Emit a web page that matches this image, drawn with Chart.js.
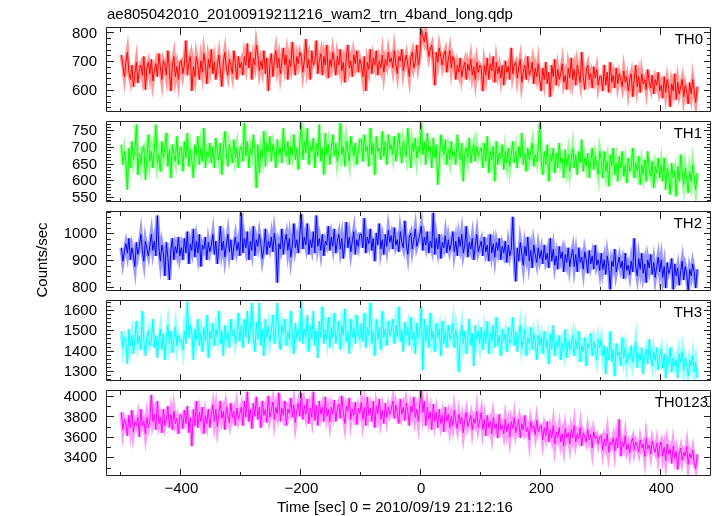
<!DOCTYPE html>
<html>
<head>
<meta charset="utf-8">
<script src="https://cdn.jsdelivr.net/npm/chart.js@4.4.1/dist/chart.umd.min.js"></script>
<style>
  html, body { margin: 0; background: #fff; }
  #wrap { position: relative; width: 717px; height: 516px; overflow: hidden; background: #fff; }
  #wrap canvas { position: absolute; left: 0; }
</style>
</head>
<body>
<div id="wrap"></div>
<script>
// light curve of the 4 WAM bands + sum, 2.5 s bins starting at -500 s
const titleText = "ae805042010_20100919211216_wam2_trn_4band_long.qdp";
const xTitle = "Time [sec] 0 = 2010/09/19 21:12:16";
const yTitle = "Counts/sec";
const bandNames = ["TH0", "TH1", "TH2", "TH3", "TH0123"];

const binStart = -500;
const binWidth = 2.5;

// one row = 50 s
const th0 = [
  725, 690, 650, 700, 735, 665, 640, 690, 615, 660, 700, 628, 675, 690, 655, 720, 605, 680, 700, 660,
  710, 635, 670, 695, 650, 730, 680, 640, 705, 690, 655, 740, 675, 600, 690, 720, 650, 685, 640, 700,
  705, 660, 690, 775, 655, 700, 720, 600, 685, 650, 720, 690, 640, 705, 665, 730, 690, 625, 710, 680,
  745, 660, 700, 640, 690, 725, 670, 615, 700, 735, 680, 655, 710, 690, 660, 740, 695, 640, 720, 680,
  700, 655, 720, 690, 765, 680, 735, 640, 715, 690, 760, 725, 670, 705, 675, 740, 660, 715, 600, 690,
  730, 650, 705, 740, 680, 715, 660, 700, 750, 690, 725, 640, 710, 685, 770, 700, 655, 720, 695, 735,
  720, 665, 705, 780, 680, 710, 640, 740, 690, 700, 775, 660, 705, 730, 655, 720, 690, 760, 645, 710,
  685, 735, 700, 655, 720, 690, 745, 670, 700, 630, 715, 760, 680, 705, 650, 725, 695, 740, 665, 710,
  690, 650, 720, 600, 700, 675, 745, 660, 715, 690, 740, 655, 705, 680, 725, 665, 710, 690, 735, 700,
  715, 680, 740, 695, 660, 720, 705, 745, 670, 700, 725, 690, 650, 715, 735, 680, 700, 760, 690, 720,
  815, 790, 770, 805, 760, 720, 745, 760, 700, 620, 735, 700, 750, 720, 690, 725, 740, 665, 710, 740,
  680, 720, 705, 640, 690, 665, 715, 650, 680, 700, 640, 695, 670, 710, 655, 685, 640, 700, 665, 690,
  680, 600, 690, 655, 715, 640, 695, 670, 720, 630, 700, 660, 685, 645, 690, 620, 705, 665, 685, 640,
  750, 660, 690, 700, 645, 680, 710, 630, 665, 690, 640, 720, 655, 670, 700, 625, 680, 650, 695, 640,
  600, 680, 640, 700, 625, 665, 580, 690, 650, 710, 620, 675, 640, 660, 695, 630, 655, 605, 680, 645,
  715, 640, 675, 620, 690, 660, 630, 735, 650, 605, 670, 690, 640, 660, 610, 685, 645, 675, 620, 650,
  650, 600, 690, 620, 665, 595, 700, 630, 655, 610, 680, 625, 660, 640, 615, 670, 630, 650, 600, 640,
  660, 580, 640, 690, 615, 650, 595, 660, 625, 640, 605, 675, 630, 610, 655, 590, 640, 620, 665, 600,
  620, 575, 650, 595, 640, 610, 545, 625, 600, 660, 570, 630, 590, 615, 640, 580, 620, 600, 555, 630,
  590, 640, 600, 560, 615
];
const th1 = [
  710, 650, 690, 660, 575, 700, 640, 720, 665, 690, 770, 620, 685, 650, 700, 705, 605, 670, 740, 660,
  690, 640, 700, 770, 655, 680, 630, 720, 670, 700, 745, 645, 695, 610, 710, 680, 660, 735, 650, 700,
  700, 630, 720, 670, 745, 645, 695, 660, 610, 710, 680, 735, 650, 700, 660, 760, 640, 690, 675, 715,
  655, 705, 640, 730, 690, 665, 715, 620, 700, 750, 680, 645, 710, 690, 655, 725, 670, 700, 640, 695,
  705, 660, 775, 675, 720, 640, 700, 680, 740, 695, 580, 710, 625, 695, 670, 750, 645, 715, 690, 735,
  660, 710, 690, 640, 725, 680, 700, 655, 760, 690, 675, 720, 650, 705, 680, 740, 665, 700, 635, 715,
  775, 665, 720, 685, 760, 650, 705, 690, 730, 640, 715, 675, 770, 660, 700, 620, 745, 680, 710, 650,
  700, 740, 675, 715, 660, 690, 775, 680, 705, 645, 720, 690, 660, 735, 700, 675, 715, 650, 690, 725,
  725, 660, 740, 690, 705, 645, 760, 680, 715, 620, 735, 690, 700, 665, 750, 675, 720, 650, 740, 695,
  710, 680, 735, 660, 700, 745, 690, 655, 720, 700, 675, 760, 695, 640, 715, 690, 730, 670, 705, 685,
  775, 680, 720, 650, 745, 690, 705, 640, 730, 670, 710, 590, 655, 740, 700, 680, 725, 650, 695, 665,
  720, 675, 690, 650, 740, 700, 665, 715, 600, 685, 700, 670, 730, 655, 690, 710, 660, 705, 675, 690,
  700, 640, 715, 660, 735, 625, 690, 665, 705, 600, 720, 650, 685, 670, 710, 635, 690, 655, 700, 645,
  680, 720, 655, 690, 640, 705, 670, 745, 650, 685, 630, 700, 665, 690, 715, 645, 680, 660, 700, 775,
  660, 620, 690, 650, 710, 600, 680, 660, 700, 625, 685, 640, 715, 655, 670, 610, 695, 645, 680, 630,
  665, 700, 640, 680, 620, 690, 655, 725, 630, 670, 645, 685, 610, 660, 700, 635, 675, 650, 620, 690,
  665, 610, 690, 630, 660, 585, 680, 645, 700, 620, 655, 600, 675, 640, 690, 615, 650, 595, 670, 630,
  640, 700, 610, 655, 630, 675, 590, 650, 620, 665, 600, 690, 635, 615, 660, 580, 645, 625, 670, 610,
  650, 600, 670, 575, 640, 620, 560, 655, 610, 630, 555, 645, 600, 680, 625, 590, 640, 610, 565, 630,
  600, 650, 615, 575, 625
];
const th2 = [
  950, 900, 935, 965, 930, 985, 905, 950, 920, 880, 970, 925, 955, 1000, 940, 900, 975, 945, 920, 960,
  1000, 940, 975, 920, 1070, 950, 900, 960, 930, 845, 970, 915, 830, 940, 985, 905, 955, 930, 990, 920,
  950, 905, 985, 930, 1010, 890, 965, 940, 1020, 915, 975, 930, 1000, 880, 960, 945, 990, 905, 970, 935,
  960, 1000, 925, 975, 890, 950, 1030, 940, 975, 915, 960, 1000, 935, 980, 905, 955, 990, 940, 970, 920,
  1080, 930, 985, 950, 1010, 905, 975, 940, 1030, 920, 980, 955, 1000, 965, 910, 945, 1020, 925, 975, 950,
  990, 935, 1005, 960, 820, 965, 945, 1020, 925, 975, 1000, 940, 985, 915, 960, 1040, 950, 980, 930, 1000,
  1075, 945, 990, 960, 1040, 925, 980, 950, 1010, 930, 1070, 955, 985, 940, 1000, 920, 975, 960, 1030, 940,
  990, 955, 1020, 930, 975, 1000, 945, 985, 910, 965, 1045, 950, 990, 935, 975, 1010, 925, 980, 955, 1000,
  1000, 950, 1060, 930, 990, 965, 1020, 940, 985, 900, 1005, 960, 1040, 945, 980, 925, 1000, 955, 1015, 970,
  995, 945, 1025, 960, 980, 935, 1010, 970, 950, 1050, 965, 925, 990, 1005, 945, 980, 1020, 955, 975, 1000,
  1030, 940, 990, 960, 1010, 930, 975, 950, 1080, 925, 985, 945, 1000, 910, 970, 950, 995, 930, 980, 940,
  965, 1010, 935, 975, 920, 990, 955, 1000, 930, 960, 1030, 915, 970, 945, 985, 905, 960, 1000, 935, 955,
  975, 920, 990, 935, 960, 900, 1000, 930, 965, 915, 970, 940, 985, 905, 955, 930, 975, 895, 960, 920,
  945, 1065, 920, 825, 950, 900, 970, 930, 885, 955, 920, 990, 900, 940, 875, 960, 925, 895, 950, 910,
  940, 890, 960, 905, 930, 875, 985, 900, 945, 885, 920, 870, 955, 910, 935, 860, 925, 895, 950, 880,
  915, 945, 880, 925, 860, 950, 895, 915, 870, 935, 905, 855, 940, 890, 920, 870, 960, 885, 905, 865,
  930, 870, 905, 850, 920, 880, 795, 900, 880, 945, 860, 890, 915, 875, 900, 835, 930, 865, 885, 850,
  900, 860, 985, 880, 845, 910, 870, 930, 855, 890, 820, 905, 875, 925, 850, 895, 840, 880, 915, 860,
  905, 840, 880, 800, 895, 855, 870, 910, 795, 890, 845, 875, 810, 865, 900, 830, 880, 855, 790, 870,
  845, 890, 860, 800, 870
];
const th3 = [
  1500, 1420, 1470, 1440, 1340, 1510, 1430, 1480, 1390, 1460, 1550, 1440, 1480, 1410, 1600, 1450, 1380, 1470, 1500, 1430,
  1450, 1560, 1420, 1480, 1370, 1460, 1510, 1410, 1490, 1360, 1470, 1530, 1440, 1500, 1395, 1465, 1520, 1430, 1480, 1450,
  1460, 1410, 1500, 1440, 1645, 1470, 1530, 1490, 1360, 1510, 1460, 1560, 1430, 1490, 1400, 1520, 1450, 1580, 1370, 1500,
  1460, 1540, 1430, 1510, 1470, 1600, 1440, 1500, 1380, 1530, 1460, 1495, 1420, 1560, 1480, 1510, 1440, 1470, 1590, 1450,
  1530, 1420, 1560, 1470, 1600, 1440, 1520, 1640, 1480, 1400, 1545, 1460, 1640, 1430, 1510, 1380, 1560, 1470, 1520, 1450,
  1500, 1580, 1440, 1520, 1640, 1470, 1410, 1530, 1490, 1560, 1430, 1500, 1460, 1600, 1480, 1390, 1540, 1470, 1510, 1450,
  1645, 1440, 1510, 1470, 1580, 1400, 1530, 1460, 1600, 1430, 1500, 1370, 1550, 1470, 1620, 1440, 1510, 1460, 1570, 1420,
  1520, 1470, 1590, 1440, 1500, 1550, 1410, 1530, 1480, 1610, 1450, 1500, 1390, 1560, 1470, 1520, 1440, 1580, 1490, 1460,
  1540, 1450, 1590, 1420, 1520, 1480, 1640, 1440, 1500, 1380, 1560, 1460, 1520, 1410, 1600, 1470, 1510, 1430, 1550, 1480,
  1500, 1560, 1440, 1530, 1470, 1620, 1450, 1510, 1400, 1545, 1480, 1520, 1430, 1570, 1460, 1500, 1390, 1540, 1470, 1510,
  1620, 1310, 1560, 1450, 1530, 1420, 1590, 1460, 1500, 1400, 1540, 1470, 1510, 1380, 1550, 1440, 1500, 1420, 1530, 1460,
  1490, 1540, 1420, 1510, 1450, 1300, 1480, 1530, 1440, 1500, 1390, 1470, 1560, 1430, 1490, 1330, 1530, 1460, 1500, 1440,
  1520, 1410, 1500, 1440, 1550, 1390, 1490, 1450, 1530, 1420, 1570, 1430, 1480, 1380, 1510, 1450, 1490, 1400, 1520, 1440,
  1470, 1570, 1430, 1500, 1400, 1480, 1530, 1420, 1460, 1510, 1380, 1470, 1440, 1520, 1410, 1490, 1450, 1360, 1480, 1430,
  1470, 1390, 1500, 1420, 1460, 1340, 1490, 1410, 1530, 1380, 1450, 1420, 1480, 1360, 1440, 1400, 1510, 1370, 1450, 1410,
  1440, 1480, 1380, 1460, 1410, 1500, 1350, 1430, 1400, 1470, 1330, 1440, 1420, 1490, 1380, 1450, 1400, 1360, 1460, 1420,
  1460, 1380, 1430, 1290, 1420, 1360, 1500, 1350, 1410, 1280, 1440, 1380, 1400, 1330, 1470, 1370, 1420, 1340, 1390, 1360,
  1430, 1350, 1400, 1450, 1320, 1390, 1360, 1420, 1290, 1380, 1410, 1340, 1460, 1370, 1330, 1400, 1355, 1420, 1310, 1380,
  1410, 1320, 1390, 1270, 1380, 1340, 1420, 1300, 1370, 1330, 1360, 1270, 1390, 1350, 1400, 1310, 1370, 1340, 1280, 1360,
  1330, 1380, 1300, 1350, 1270
];
const th0123 = [
  3850, 3680, 3780, 3740, 3620, 3820, 3700, 3870, 3660, 3760, 3720, 3800, 3610, 3880, 3720, 3760, 3640, 3800, 3700, 3760,
  4020, 3760, 3830, 3680, 3960, 3740, 3800, 3650, 3880, 3720, 3780, 3910, 3700, 3830, 3680, 3860, 3740, 3790, 3640, 3820,
  3820, 3690, 3870, 3740, 3910, 3650, 3800, 3520, 3880, 3720, 3960, 3700, 3850, 3760, 3900, 3640, 3820, 3740, 3880, 3700,
  3840, 3920, 3760, 3880, 3710, 3830, 3960, 3790, 3860, 3680, 3900, 3820, 3750, 3940, 3800, 3860, 3720, 3890, 3780, 3840,
  3900, 3720, 3960, 3800, 4050, 3760, 3880, 3690, 3940, 3810, 4000, 3780, 3900, 3700, 3960, 3820, 3880, 3750, 4010, 3800,
  3870, 3950, 3780, 3900, 3830, 4040, 3760, 3890, 3820, 3960, 3720, 3880, 3840, 3990, 3800, 3920, 3750, 3870, 3940, 3810,
  4040, 3780, 3920, 3830, 3980, 3740, 3890, 3800, 4050, 3770, 3920, 3720, 3960, 3830, 3900, 3760, 4000, 3810, 3880, 3760,
  3900, 3830, 3970, 3760, 3880, 3930, 3790, 4010, 3850, 3740, 3910, 3860, 3990, 3780, 3880, 3820, 3950, 3730, 3890, 3840,
  3950, 3780, 3900, 3720, 4000, 3820, 3890, 3760, 3960, 3700, 3910, 3830, 3980, 3780, 3870, 3740, 3940, 3800, 3900, 3830,
  3880, 3960, 3790, 3920, 3850, 3740, 3980, 3830, 3900, 3770, 3940, 3860, 3720, 3910, 3850, 4000, 3800, 3880, 3760, 3930,
  4060, 3850, 3960, 3720, 3900, 3780, 3860, 3680, 3930, 3760, 3850, 3700, 3880, 3740, 3820, 3660, 3900, 3760, 3830, 3700,
  3810, 3720, 3870, 3760, 3690, 3830, 3740, 3800, 3650, 3780, 3850, 3710, 3760, 3820, 3680, 3790, 3740, 3860, 3700, 3770,
  3850, 3680, 3780, 3620, 3820, 3700, 3760, 3640, 3800, 3690, 3740, 3600, 3830, 3680, 3720, 3640, 3780, 3660, 3740, 3610,
  3760, 3690, 3800, 3650, 3720, 3780, 3600, 3740, 3680, 3820, 3660, 3700, 3580, 3760, 3690, 3720, 3630, 3770, 3660, 3710,
  3720, 3580, 3700, 3620, 3760, 3560, 3680, 3600, 3720, 3540, 3660, 3600, 3700, 3560, 3640, 3520, 3690, 3600, 3650, 3540,
  3680, 3600, 3720, 3560, 3640, 3590, 3700, 3520, 3650, 3610, 3560, 3680, 3580, 3630, 3500, 3660, 3590, 3620, 3540, 3610,
  3620, 3480, 3590, 3520, 3640, 3460, 3560, 3530, 3600, 3470, 3600, 3500, 3780, 3420, 3560, 3510, 3620, 3480, 3540, 3450,
  3560, 3600, 3480, 3560, 3520, 3460, 3580, 3500, 3540, 3420, 3600, 3490, 3530, 3440, 3570, 3500, 3460, 3550, 3410, 3520,
  3560, 3420, 3510, 3380, 3540, 3440, 3490, 3350, 3520, 3400, 3470, 3290, 3440, 3500, 3380, 3460, 3420, 3520, 3340, 3450,
  3400, 3480, 3350, 3300, 3440
];

const times = th0.map((_, i) => binStart + binWidth * i);
const xTicks = [-400, -200, 0, 200, 400];
const xRange = [-524, 483];

const yTicks = [
  [600, 700, 800],
  [550, 600, 650, 700, 750],
  [800, 900, 1000],
  [1300, 1400, 1500, 1600],
  [3400, 3600, 3800, 4000]
];
const yMinorStep = [20, 10, 20, 20, 100];
const yRanges = [[527, 819], [538, 778], [789, 1083], [1256, 1649], [3227, 4058]];

const series = [th0, th1, th2, th3, th0123];

// ---- styles / layout ----
const FONT = '"Liberation Sans", Arial, Helvetica, sans-serif';
const colors = ["#ff0000", "#00ff00", "#0000ff", "#00ffff", "#ff00ff"];
const halos = ["rgba(255,0,0,0.4)", "rgba(0,255,0,0.4)", "rgba(0,0,255,0.4)", "rgba(0,255,255,0.4)", "rgba(255,0,255,0.4)"];
const panelTop = [28, 117, 207, 296, 386, 476];
const labelRight = [703, 702, 702, 702, 708];
const W = 717, H = 516, PAD = 14;

const framePlugin = {
  id: "panelFrame",
  afterDatasetsDraw(chart, args, opts) {
    const { ctx, chartArea: a, scales } = chart;
    const i = opts.idx;
    const top = opts.canvasTop;
    ctx.save();
    ctx.strokeStyle = "#222";
    ctx.lineWidth = 1;
    ctx.beginPath();
    ctx.rect(a.left - 0.5, a.top - 0.5, a.right - a.left, a.bottom - a.top);
    // x ticks, every 100 s, longer at labelled ones
    for (let t = -500; t <= 400; t += 100) {
      const px = Math.round(scales.x.getPixelForValue(t)) - 0.5;
      const len = t % 200 === 0 ? 7 : 4;
      ctx.moveTo(px, a.top); ctx.lineTo(px, a.top + len);
      ctx.moveTo(px, a.bottom); ctx.lineTo(px, a.bottom - len);
    }
    // y ticks
    const y = scales.y;
    const step = yMinorStep[i];
    for (let v = Math.ceil(y.min / step) * step; v <= y.max; v += step) {
      const py = Math.round(y.getPixelForValue(v)) - 0.5;
      const len = yTicks[i].includes(v) ? 7 : 4;
      ctx.moveTo(a.left, py); ctx.lineTo(a.left + len, py);
      ctx.moveTo(a.right, py); ctx.lineTo(a.right - len, py);
    }
    ctx.stroke();

    ctx.fillStyle = "#000";
    ctx.font = "15px " + FONT;
    ctx.textAlign = "right";
    ctx.textBaseline = "alphabetic";
    ctx.fillText(bandNames[i], labelRight[i], a.top + 16);

    ctx.textAlign = "left";
    if (i === 0) ctx.fillText(titleText, 107, 18.5 - top);
    if (i === 4) ctx.fillText(xTitle, 277, 511.5 - top);
    if (i === 2) {
      ctx.translate(46.5, 260 - top);
      ctx.rotate(-Math.PI / 2);
      ctx.textAlign = "center";
      ctx.fillText(yTitle, 0, 0);
    }
    ctx.restore();
  }
};

const wrap = document.getElementById("wrap");

series.forEach((vals, i) => {
  const last = i === series.length - 1;
  const cTop = i === 0 ? 0 : panelTop[i] - PAD;
  const cBottom = last ? H : panelTop[i + 1] + PAD;
  const cv = document.createElement("canvas");
  cv.width = W;
  cv.height = cBottom - cTop;
  cv.style.top = cTop + "px";
  cv.style.width = W + "px";
  cv.style.height = (cBottom - cTop) + "px";
  wrap.appendChild(cv);

  const pts = vals.map((v, k) => ({ x: times[k], y: v }));

  new Chart(cv, {
    type: "line",
    data: {
      datasets: [
        { data: pts, borderColor: colors[i], borderWidth: 1, pointRadius: 0, tension: 0 },
        { data: pts, borderColor: halos[i], borderWidth: 4, pointRadius: 0, tension: 0 }
      ]
    },
    options: {
      responsive: false,
      animation: false,
      events: [],
      layout: { padding: { left: 0, right: W - 711, top: panelTop[i] - cTop, bottom: last ? 0 : PAD } },
      plugins: {
        legend: { display: false },
        tooltip: { enabled: false },
        panelFrame: { idx: i, canvasTop: cTop }
      },
      scales: {
        x: {
          type: "linear",
          min: xRange[0],
          max: xRange[1],
          display: last,
          grid: { display: false, drawTicks: false },
          border: { display: false },
          afterBuildTicks: (s) => { s.ticks = xTicks.map((v) => ({ value: v })); },
          afterFit: (s) => { if (last) s.height = 40; },
          ticks: {
            autoSkip: false,
            maxRotation: 0,
            padding: 4,
            color: "#000",
            font: { family: FONT, size: 15 },
            callback: (v) => (v < 0 ? "\u2212" + (-v) : String(v))
          }
        },
        y: {
          min: yRanges[i][0],
          max: yRanges[i][1],
          grid: { display: false, drawTicks: false },
          border: { display: false },
          afterBuildTicks: (s) => { s.ticks = yTicks[i].map((v) => ({ value: v })); },
          afterFit: (s) => { s.width = 107; },
          ticks: {
            autoSkip: false,
            padding: 10,
            color: "#000",
            font: { family: FONT, size: 15 },
            callback: (v) => String(v)
          }
        }
      }
    },
    plugins: [framePlugin]
  });
});
</script>
</body>
</html>
